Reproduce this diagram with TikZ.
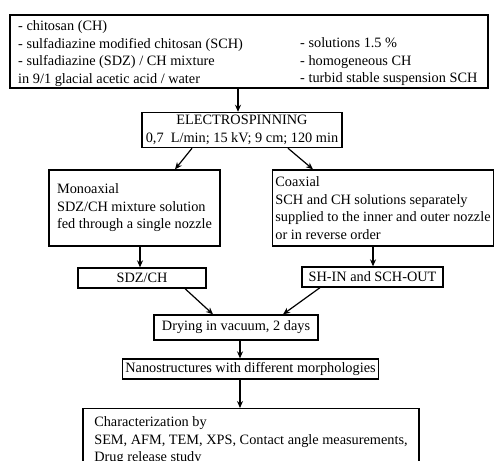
\documentclass[tikz,border=0pt]{standalone}
\usepackage{fontspec}
\setmainfont{Liberation Serif}
\usetikzlibrary{arrows.meta}

\begin{document}
\begin{tikzpicture}[x=1pt,y=-1pt,
    font=\fontsize{14.3}{17.5}\selectfont,
    box/.style={draw,line width=1.3pt,align=left,inner sep=3pt},
    arr/.style={line width=1.2pt,-{Stealth[length=7pt,width=6pt]}}]
    \clip (0,0) rectangle (494,460);

    % starting solutions
    \node[box,minimum width=478,minimum height=73] (src) at (249,51.5) {};
    \node[anchor=west,align=left,inner sep=0pt] (srcl) at (18,53.5) {- chitosan (CH)\\
      - sulfadiazine modified chitosan (SCH)\\
      - sulfadiazine (SDZ) / CH mixture\\
      in 9/1 glacial acetic acid / water};
    \node[anchor=west,align=left,inner sep=0pt] (srcr) at (300,62) {- solutions 1.5 \%\\
      - homogeneous CH\\
      - turbid stable suspension SCH};

    \node[box,align=center,minimum width=200,minimum height=34] (elec) at (242,130)
      {ELECTROSPINNING\\0,7\ \ L/min; 15 kV; 9 cm; 120 min};

    \node[box,minimum width=171,minimum height=76] (mono) at (134.5,208)
      {Monoaxial\\SDZ/CH mixture solution\\fed through a single nozzle};
    \node[box,minimum width=220,minimum height=76] (coax) at (383,208)
      {Coaxial\\SCH and CH solutions separately\\supplied to the inner and outer nozzle\\or in reverse order};

    \node[box,align=center,minimum width=128,minimum height=20] (sdz) at (142,278) {SDZ/CH};
    \node[box,align=center,minimum width=141,minimum height=20] (shin) at (372.5,277) {SH-IN and SCH-OUT};

    \node[box,align=center,minimum width=164,minimum height=25] (dry) at (236,327.5) {Drying in vacuum, 2 days};
    \node[box,align=center,minimum width=255,minimum height=20] (nano) at (250.5,369)
      {Nanostructures with different morphologies};
    \node[box,anchor=north,minimum width=336,minimum height=64] (char) at (251,408)
      {Characterization by\\SEM, AFM, TEM, XPS, Contact angle measurements,\\Drug release study};

    % arrows
    \draw[arr] ([xshift=-4]elec.north |- src.south) -- ([xshift=-4]elec.north);
    \draw[arr] ([xshift=-50]elec.south) -- ([xshift=40.5]mono.north);
    \draw[arr] ([xshift=46]elec.south) -- ([xshift=-70]coax.north);
    \draw[arr] ([xshift=5.5]mono.south) -- ([xshift=-2]sdz.north);
    \draw[arr] ([xshift=-10]coax.south) -- ([xshift=0.5]shin.north);
    \draw[arr] ([xshift=43]sdz.south) -- ([xshift=-23]dry.north);
    \draw[arr] ([xshift=-52.5]shin.south) -- ([xshift=47]dry.north);
    \draw[arr] ([xshift=4]dry.south) -- ([xshift=-10.5]nano.north);
    \draw[arr] ([xshift=-10.5]nano.south) -- ([xshift=-11]char.north);
\end{tikzpicture}
\end{document}
